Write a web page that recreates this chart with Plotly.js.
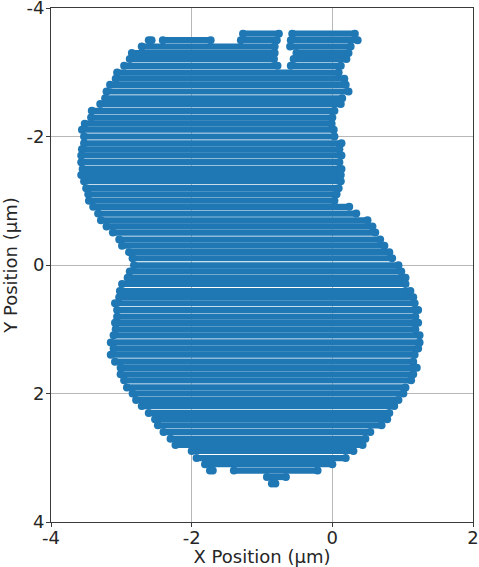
<!DOCTYPE html>
<html>
<head>
<meta charset="utf-8">
<script src="https://cdn.plot.ly/plotly-3.0.1.min.js"></script>
<style>html,body{margin:0;padding:0;background:#fff}#plot{width:479px;height:567px}</style>
</head>
<body>
<div id="plot"></div>
<script>
// Each entry is one measured run of markers along a scan row.
var rowY = [
-3.6,-3.6,
-3.5,-3.5,-3.5,-3.5,
-3.4,-3.4,
-3.3,-3.3,
-3.205,-3.205,
-3.1,-3.1,
-2.995,-2.9,-2.805,-2.7,-2.595,-2.505,-2.4,-2.295,-2.2,-2.105,-2.0,
-1.895,-1.8,-1.705,-1.6,-1.495,-1.4,-1.305,-1.195,-1.1,-1.0,
-0.905,-0.8,-0.695,-0.6,-0.505,-0.395,-0.3,-0.2,-0.105,0.005,
0.1,0.2,0.295,0.405,0.5,0.595,0.7,0.805,0.9,1.0,
1.095,1.205,1.3,1.395,1.505,1.6,1.7,1.795,1.905,2.0,
2.1,2.195,2.305,2.4,2.495,2.6,2.705,2.8,2.895,3.005,3.1,
3.2,3.2,
3.3,3.4];
var rowStart = [
-1.27,-0.57,
-2.61,-2.41,-1.30,-0.59,
-2.71,-0.60,
-2.85,-0.51,
-2.88,-0.55,
-2.96,-0.59,
-3.06,-3.08,-3.16,-3.21,-3.23,-3.30,-3.42,-3.43,-3.52,-3.56,-3.53,
-3.53,-3.56,-3.57,-3.57,-3.55,-3.57,-3.53,-3.50,-3.47,-3.46,
-3.40,-3.33,-3.29,-3.21,-3.12,-3.03,-2.99,-2.89,-2.84,-2.82,
-2.88,-2.91,-2.99,-3.02,-3.03,-3.09,-3.06,-3.06,-3.09,-3.08,
-3.11,-3.15,-3.11,-3.15,-3.09,-3.01,-3.01,-2.96,-2.92,-2.84,
-2.79,-2.71,-2.61,-2.52,-2.48,-2.40,-2.30,-2.23,-2.00,-1.93,-1.81,
-1.74,-1.40,
-0.93,-0.86];
var rowEnd = [
-0.76,0.32,
-2.57,-1.73,-0.79,0.36,
-0.82,0.26,
-0.82,0.23,
-0.83,0.20,
-0.78,0.12,
0.09,0.17,0.19,0.23,0.14,0.12,0.03,0.00,-0.01,0.02,0.03,
0.13,0.10,0.13,0.10,0.13,0.12,0.12,0.09,0.06,0.03,
0.24,0.34,0.50,0.57,0.61,0.68,0.74,0.81,0.85,0.94,
0.98,1.04,1.04,1.11,1.15,1.17,1.22,1.18,1.22,1.18,
1.24,1.24,1.22,1.17,1.15,1.20,1.15,1.12,1.04,1.01,
0.94,0.88,0.81,0.78,0.70,0.54,0.47,0.43,0.30,0.19,0.00,
-1.70,-0.21,
-0.66,-0.81];
var xTickVals = [-4,-2,0,2];
var xTickText = ['-4','-2','0','2'];
var yTickVals = [-4,-2,0,2,4];
var yTickText = ['-4','-2','0','2','4'];

var xs = [], ys = [];
for (var i = 0; i < rowY.length; i++) {
  xs.push(rowStart[i], rowEnd[i], null);
  ys.push(rowY[i], rowY[i], null);
}
var font = {family: '"DejaVu Sans", sans-serif', size: 18, color: '#262626'};
var axisBase = {
  showline: true, mirror: true, linecolor: '#3a3a3a', linewidth: 1,
  showgrid: true, gridcolor: '#b8b8b8', gridwidth: 1, zeroline: false,
  ticks: 'outside', ticklen: 4, tickwidth: 1, tickcolor: '#3a3a3a',
  tickfont: font, automargin: false, ticklabeloverflow: 'allow'
};
Plotly.newPlot('plot', [{
  type: 'scatter', mode: 'lines+markers', x: xs, y: ys, connectgaps: false,
  line: {color: '#1f77b4', width: 6.2},
  marker: {color: '#1f77b4', size: 8, line: {width: 0}},
  hoverinfo: 'skip', showlegend: false
}], {
  width: 479, height: 567,
  margin: {l: 50.5, r: 6, t: 8, b: 45, pad: 0},
  paper_bgcolor: '#fff', plot_bgcolor: '#fff', showlegend: false,
  xaxis: Object.assign({}, axisBase, {
    range: [-4, 2], tickmode: 'array', tickvals: xTickVals, ticktext: xTickText,
    ticklabelstandoff: -5,
    title: {text: 'X Position (µm)', font: font, standoff: 3}
  }),
  yaxis: Object.assign({}, axisBase, {
    range: [4, -4], tickmode: 'array', tickvals: yTickVals, ticktext: yTickText,
    ticklabelstandoff: -2,
    title: {text: 'Y Position (µm)', font: font, standoff: 8}
  })
}, {displayModeBar: false, responsive: false});
</script>
</body>
</html>
